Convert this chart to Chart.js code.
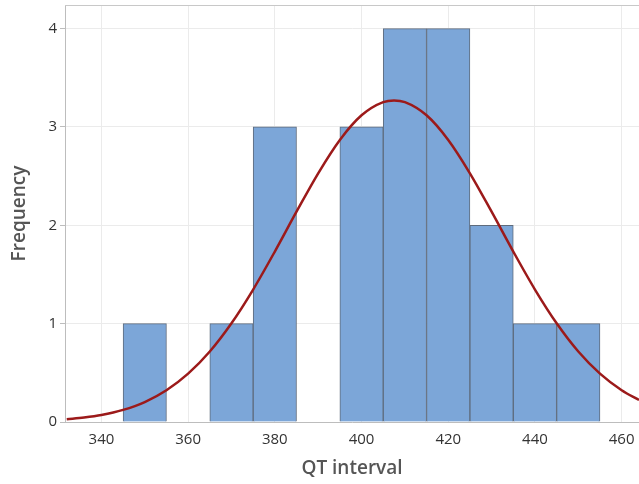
<!DOCTYPE html>
<html>
<head>
<meta charset="utf-8">
<script src="https://cdn.jsdelivr.net/npm/chart.js@4.4.0/dist/chart.umd.min.js"></script>
<style>
html,body{margin:0;padding:0;background:#fff;}
#wrap{width:639px;height:484px;position:relative;}
</style>
</head>
<body>
<div id="wrap"><canvas id="c" width="639" height="484"></canvas></div>
<script>
// Histogram bins (centers) and frequencies
const binCenters = [350, 370, 380, 400, 410, 420, 430, 440, 450];
const frequencies = [1, 1, 3, 3, 4, 4, 2, 1, 1];
// Fitted normal curve
const curveX = [332, 336, 340, 345, 350, 355, 360, 365, 370, 375, 380, 385, 390, 395, 400, 405, 407.5, 410, 415, 420, 425, 430, 435, 440, 445, 450, 455, 460, 464];
const curveY = [0.027, 0.045, 0.071, 0.123, 0.203, 0.323, 0.492, 0.717, 1.004, 1.347, 1.733, 2.138, 2.529, 2.868, 3.119, 3.253, 3.27, 3.253, 3.119, 2.868, 2.529, 2.138, 1.733, 1.347, 1.004, 0.717, 0.492, 0.323, 0.224];
const xTicks = [340, 360, 380, 400, 420, 440, 460];
const yTicks = [0, 1, 2, 3, 4];

const topBorder = {
  id: 'topBorder',
  afterDraw(chart) {
    const {ctx, chartArea} = chart;
    ctx.save();
    ctx.strokeStyle = '#c8c8c8';
    ctx.lineWidth = 1;
    ctx.beginPath();
    ctx.moveTo(chartArea.left, chartArea.top + 0.5);
    ctx.lineTo(chartArea.right, chartArea.top + 0.5);
    ctx.stroke();
    ctx.restore();
  }
};

new Chart(document.getElementById('c'), {
  type: 'bar',
  data: {
    datasets: [
      {
        type: 'line',
        data: curveX.map((x, i) => ({x: x, y: curveY[i]})),
        borderColor: '#9c1a1a',
        borderWidth: 2.5,
        pointRadius: 0,
        tension: 0.4,
        cubicInterpolationMode: 'monotone',
        fill: false,
        clip: false,
        order: 0
      },
      {
        type: 'bar',
        data: binCenters.map((x, i) => ({x: x, y: frequencies[i]})),
        backgroundColor: '#7ca6d8',
        borderColor: '#5e6b7c',
        borderWidth: 1,
        barPercentage: 1,
        categoryPercentage: 1,
        order: 1
      }
    ]
  },
  options: {
    responsive: false,
    animation: false,
    layout: {padding: {top: 5, right: 0, left: 0, bottom: 0}},
    plugins: {legend: {display: false}, tooltip: {enabled: false}},
    scales: {
      x: {
        type: 'linear',
        offset: false,
        min: 331.6,
        max: 464,
        afterBuildTicks(axis) { axis.ticks = xTicks.map(v => ({value: v})); },
        grid: {offset: false, color: '#ebebeb', drawTicks: true, tickLength: 4, tickColor: '#ffffff'},
        border: {color: '#bdbdbd'},
        ticks: {color: '#333', font: {family: 'Open Sans', size: 15}, padding: 5, maxRotation: 0},
        title: {display: true, text: 'QT interval', color: '#555', font: {family: 'Open Sans', size: 19, weight: '600'}, padding: {top: 0}},
        afterFit(axis) { axis.height = 62; axis.paddingLeft = 0; axis.paddingRight = 0; }
      },
      y: {
        min: 0,
        max: 4.24,
        afterBuildTicks(axis) { axis.ticks = yTicks.map(v => ({value: v})); },
        grid: {color: '#ebebeb', tickLength: 5, tickColor: '#bdbdbd'},
        border: {color: '#bdbdbd'},
        ticks: {color: '#333', font: {family: 'Open Sans', size: 15}, padding: 3},
        title: {display: true, text: 'Frequency', color: '#555', font: {family: 'Open Sans', size: 19, weight: '600'}, padding: {top: 8, bottom: 0}},
        afterFit(axis) { axis.width = 65; axis.paddingTop = 0; axis.paddingBottom = 0; }
      }
    }
  },
  plugins: [topBorder]
});
</script>
</body>
</html>
